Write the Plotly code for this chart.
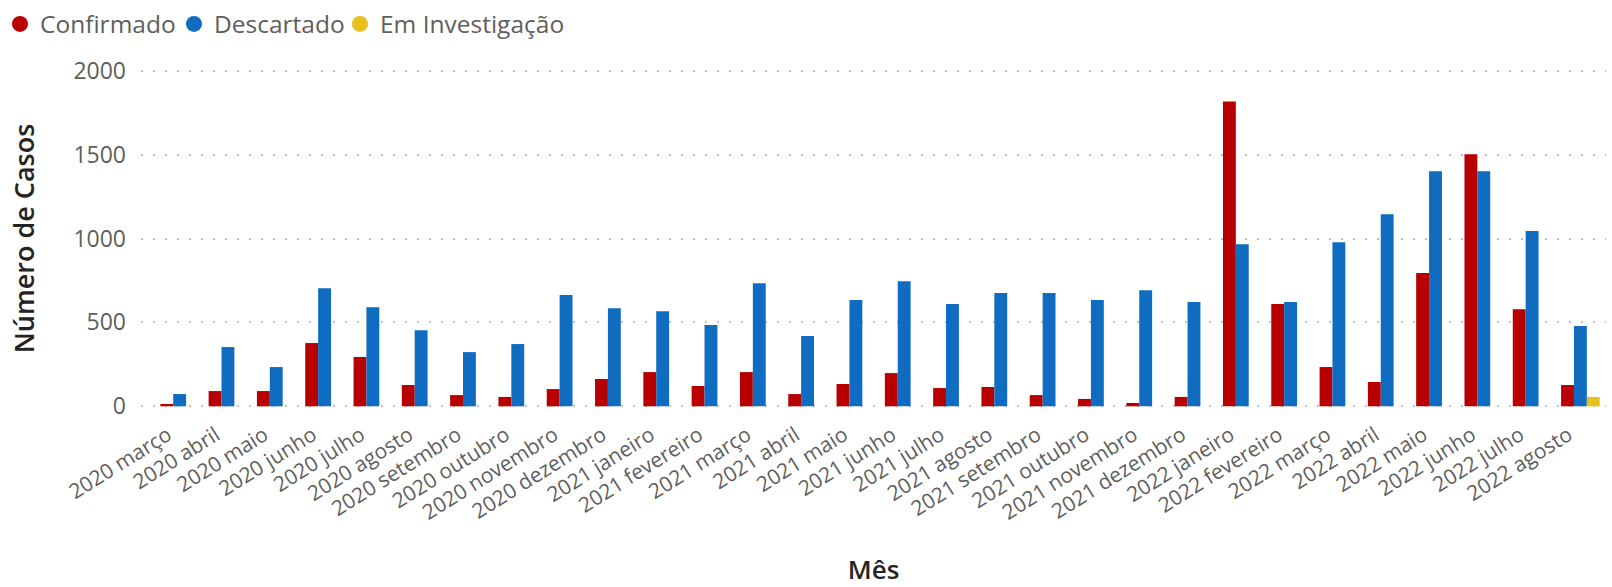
import plotly.graph_objects as go

meses = ["2020 março", "2020 abril", "2020 maio", "2020 junho", "2020 julho", "2020 agosto",
         "2020 setembro", "2020 outubro", "2020 novembro", "2020 dezembro", "2021 janeiro",
         "2021 fevereiro", "2021 março", "2021 abril", "2021 maio", "2021 junho", "2021 julho",
         "2021 agosto", "2021 setembro", "2021 outubro", "2021 novembro", "2021 dezembro",
         "2022 janeiro", "2022 fevereiro", "2022 março", "2022 abril", "2022 maio",
         "2022 junho", "2022 julho", "2022 agosto"]

confirmado = [14, 91, 91, 377, 294, 127, 67, 56, 103, 163, 204, 121, 204, 73, 133, 198, 109,
              115, 67, 44, 20, 56, 1817, 609, 234, 145, 794, 1502, 579, 127]
descartado = [73, 353, 234, 704, 591, 454, 323, 371, 663, 585, 567, 484, 734, 419, 633, 746, 609,
              675, 675, 633, 692, 621, 966, 621, 978, 1145, 1401, 1401, 1044, 478]
em_investigacao = [0, 0, 0, 0, 0, 0, 0, 0, 0, 0, 0, 0, 0, 0, 0, 0, 0,
                   0, 0, 0, 0, 0, 0, 0, 0, 0, 0, 0, 0, 56]

series = [("Confirmado", confirmado, "#B90000", 129),
          ("Descartado", descartado, "#0F6CC1", 121),
          ("Em Investigação", em_investigacao, "#E8C11E", 190)]

FONT = "Open Sans"
fig = go.Figure()
for name, vals, color, lw in series:
    fig.add_trace(go.Bar(x=meses, y=vals, name=name, marker_color=color,
                         marker_line_width=0, showlegend=False))
for name, vals, color, lw in series:
    fig.add_trace(go.Scatter(x=[None], y=[None], mode="markers", name=name,
                             marker=dict(symbol="circle", size=19, color=color),
                             legendwidth=lw, showlegend=True))

fig.update_layout(
    template="none",
    width=1612, height=587,
    margin=dict(l=141, r=6, t=69, b=179, autoexpand=False),
    paper_bgcolor="white", plot_bgcolor="white",
    barmode="group", bargap=0.2, bargroupgap=0,
    font=dict(family=FONT, color="#605E5C"),
    legend=dict(orientation="h", xref="container", yref="container",
                x=-0.005, y=1 - 24 / 587, xanchor="left", yanchor="middle",
                font=dict(size=24.5, color="#605E5C", family=FONT),
                itemwidth=30, tracegroupgap=0, bgcolor="rgba(0,0,0,0)", borderwidth=0),
    xaxis=dict(type="category", range=[-0.8, 29.53], tickangle=-32, automargin=False,
               tickfont=dict(size=21, color="#605E5C", family=FONT),
               showgrid=False, showline=False, zeroline=False, ticks="",
               ticklabelstandoff=10, ticklabelshift=-12,
               title=dict(text="Mês", standoff=67,
                          font=dict(size=26, color="#252423", family=FONT, weight=600))),
    yaxis=dict(range=[-10, 2010], tickvals=[0, 500, 1000, 1500, 2000], automargin=False,
               tickfont=dict(size=23, color="#605E5C", family=FONT),
               showgrid=True, gridcolor="#C0C0C0", gridwidth=2, griddash="2px,10px",
               zeroline=False, showline=False, ticks="", ticklabelstandoff=14,
               title=dict(text="Número de Casos", standoff=30,
                          font=dict(size=27, color="#252423", family=FONT, weight=600))),
)

fig.write_html("out.html", config={"displayModeBar": False},
               post_script="document.body.style.margin='0px';")
